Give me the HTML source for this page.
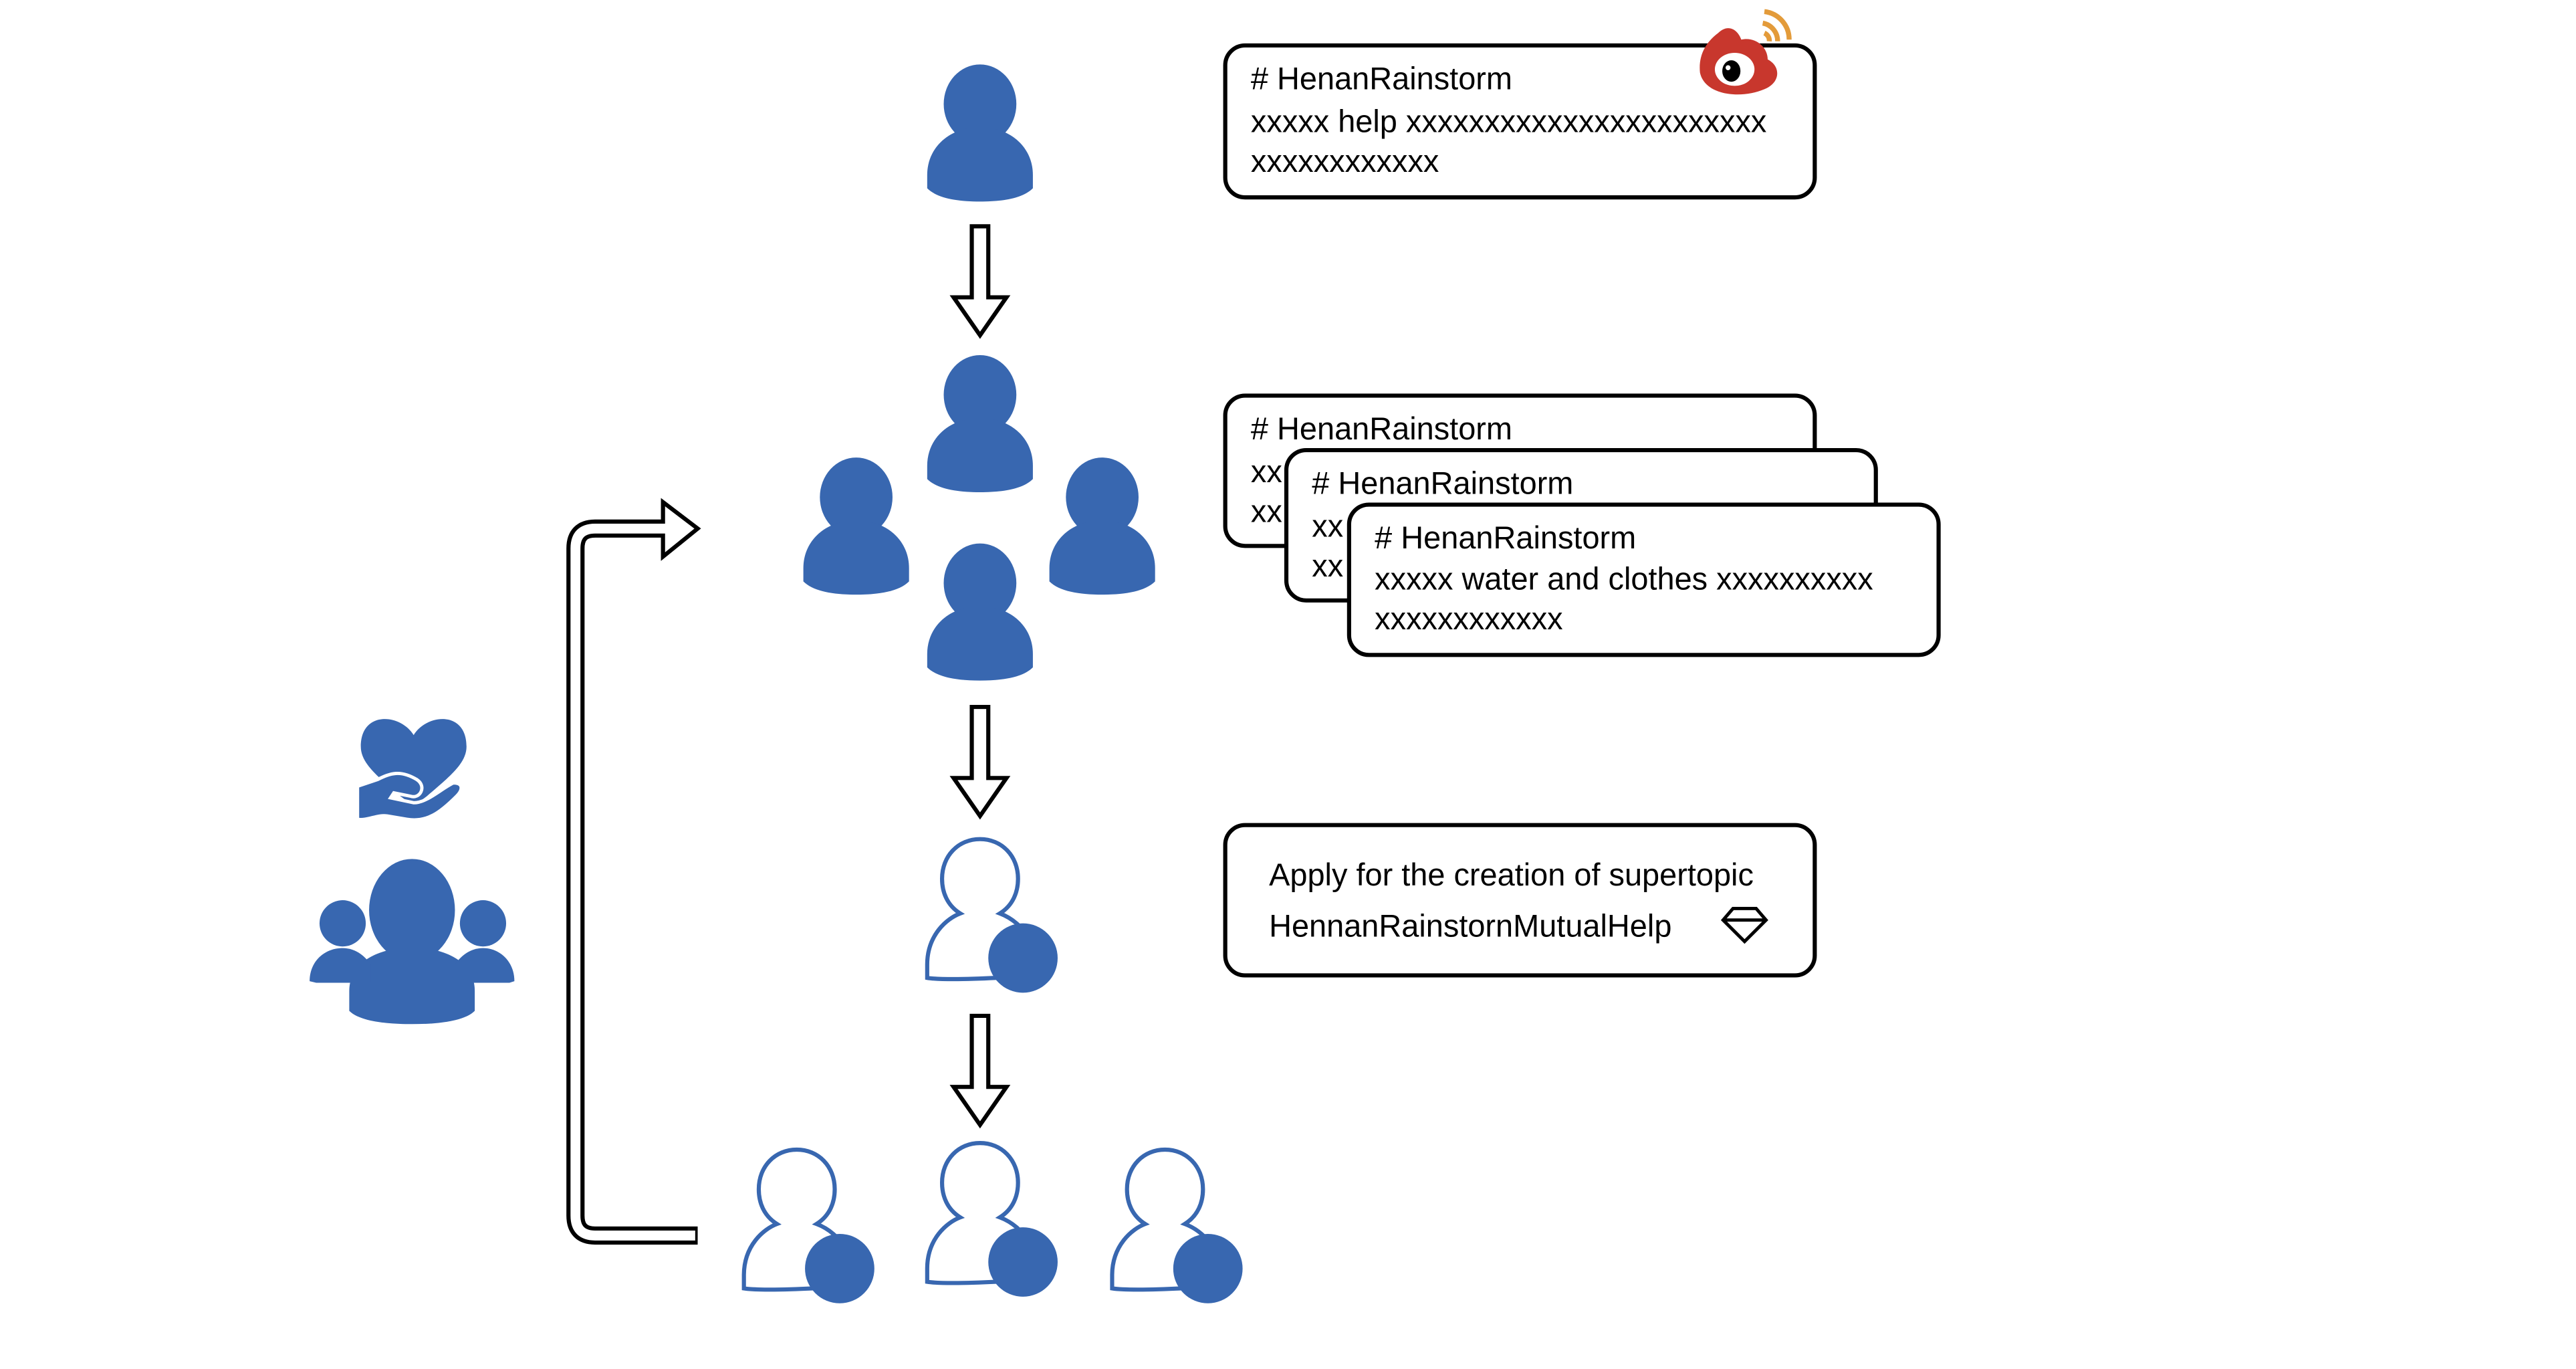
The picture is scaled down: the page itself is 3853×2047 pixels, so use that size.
<!DOCTYPE html>
<html><head><meta charset="utf-8"><style>
html,body{margin:0;padding:0;background:#fff;}
svg{display:block;}
text{font-family:"Liberation Sans",Arial,sans-serif;fill:#000;}
</style></head><body>
<svg width="3853" height="2047" viewBox="3.5 0 1560 828.8" xmlns="http://www.w3.org/2000/svg">
<defs>
<g id="pf">
<ellipse cx="0" cy="-17" rx="22" ry="24" fill="#3867b0"/>
<path d="M-32,34 L-32,26 C-32,10 -20,0 -8,-2 L8,-2 C20,0 32,10 32,26 L32,34 C26,40 14,42 0,42 C-14,42 -26,40 -32,34 Z" fill="#3867b0"/>
</g>
<g id="po">
<path d="M-32,32 L-32,24 C-32,6 -20,-4 -12,-7 C-20,-12 -23,-20 -23,-28 C-23,-42 -13,-52 0,-52 C13,-52 23,-42 23,-28 C23,-20 20,-12 12,-7 C20,-4 26,2 28,6 L10,32 C-10,33 -26,33 -32,32 Z" fill="#fff" stroke="#3867b0" stroke-width="2.5"/>
<circle cx="26" cy="20" r="21" fill="#3867b0"/>
</g>
<g id="da">
<polygon points="-5,0 5,0 5,43 16,43 0,66 -16,43 -5,43" fill="#fff" stroke="#000" stroke-width="2.5"/>
</g>
</defs>

<use href="#pf" x="597" y="80"/>
<use href="#da" x="597" y="137"/>

<rect x="745.5" y="27.5" width="357" height="92" rx="12" fill="#fff" stroke="#000" stroke-width="2.5"/>
<text x="761" y="54" font-size="19">#&#160;HenanRainstorm</text>
<text x="761" y="80" font-size="19">xxxxx help xxxxxxxxxxxxxxxxxxxxxxx</text>
<text x="761" y="104" font-size="19">xxxxxxxxxxxx</text>
<g>
<path d="M1044,20 C1050,14 1056,18 1058,24 C1066,22 1074,28 1074,36 C1082,40 1082,50 1072,54 C1058,60 1036,58 1033,44 C1032,34 1036,26 1044,20 Z" fill="#c8372d"/>
<ellipse cx="1054" cy="42" rx="12" ry="10" fill="#fff"/>
<ellipse cx="1052" cy="43" rx="5.5" ry="6.5" fill="#000"/>
<circle cx="1050" cy="41" r="1.5" fill="#fff"/>
<path d="M1071,14 A11,11 0 0 1 1080,25" fill="none" stroke="#e39b3a" stroke-width="3"/>
<path d="M1072,7 A17,17 0 0 1 1087,24" fill="none" stroke="#e39b3a" stroke-width="3"/>
<path d="M1072,20 A5,5 0 0 1 1075,25" fill="none" stroke="#e39b3a" stroke-width="3"/>
</g>

<use href="#pf" x="597" y="256"/>
<use href="#pf" x="522" y="318"/>
<use href="#pf" x="671" y="318"/>
<use href="#pf" x="597" y="370"/>

<rect x="745.5" y="239.5" width="357" height="91" rx="12" fill="#fff" stroke="#000" stroke-width="2.5"/>
<text x="761" y="266" font-size="19">#&#160;HenanRainstorm</text>
<text x="761" y="292" font-size="19">xx</text>
<text x="761" y="316" font-size="19">xx</text>
<rect x="782.5" y="272.5" width="357" height="91" rx="12" fill="#fff" stroke="#000" stroke-width="2.5"/>
<text x="798" y="299" font-size="19">#&#160;HenanRainstorm</text>
<text x="798" y="325" font-size="19">xx</text>
<text x="798" y="349" font-size="19">xx</text>
<rect x="820.5" y="305.5" width="357" height="91" rx="12" fill="#fff" stroke="#000" stroke-width="2.5"/>
<text x="836" y="332" font-size="19">#&#160;HenanRainstorm</text>
<text x="836" y="357" font-size="19">xxxxx water and clothes xxxxxxxxxx</text>
<text x="836" y="381" font-size="19">xxxxxxxxxxxx</text>

<use href="#da" x="597" y="428"/>
<use href="#po" x="597" y="560"/>

<rect x="745.5" y="499.5" width="357" height="91" rx="12" fill="#fff" stroke="#000" stroke-width="2.5"/>
<text x="772" y="536" font-size="19">Apply for the creation of supertopic</text>
<text x="772" y="567" font-size="19">HennanRainstornMutualHelp</text>
<path d="M1047,557 L1053,550 L1067,550 L1073,557 L1060,570 Z M1047,557 L1073,557" fill="none" stroke="#000" stroke-width="2"/>

<use href="#da" x="597" y="615"/>
<use href="#po" x="486" y="748"/>
<use href="#po" x="597" y="744"/>
<use href="#po" x="709" y="748"/>

<path d="M426,748 H364 Q352,748 352,736 V332 Q352,320 364,320 H407" fill="none" stroke="#000" stroke-width="11"/>
<polygon points="405,304 426,320 405,337" fill="#fff" stroke="#000" stroke-width="2.5"/>
<path d="M424.5,748 H364 Q352,748 352,736 V332 Q352,320 364,320 H410" fill="none" stroke="#fff" stroke-width="6"/>

<g fill="#3867b0">
<path d="M254,445 C246,432 222,430 222,452 C222,462 232,470 246,482 L254,488 L262,482 C276,470 286,462 286,452 C286,430 262,432 254,445 Z"/>
<path d="M220,476 L232,472 C240,468 246,466 256,472 C262,476 258,484 252,482 L242,480 L240,483 L254,486 C262,486 270,478 278,474 C284,474 284,478 280,482 C270,492 262,498 250,496 L238,494 C232,493 226,497 220,496 Z" stroke="#fff" stroke-width="2"/>
<ellipse cx="253" cy="551" rx="26" ry="31"/>
<path d="M215,612 L215,600 C215,586 226,578 240,575 L266,575 C280,578 291,586 291,600 L291,612 C285,618 270,620 253,620 C236,620 221,618 215,612 Z"/>
<circle cx="211" cy="559" r="14"/>
<path d="M191,594 C191,582 200,574 211,574 C218,574 224,578 228,584 L228,595 L195,595 Z"/>
<circle cx="296" cy="559" r="14"/>
<path d="M315,594 C315,582 306,574 296,574 C289,574 283,578 279,584 L279,595 L312,595 Z"/>
</g>
</svg>
</body></html>
